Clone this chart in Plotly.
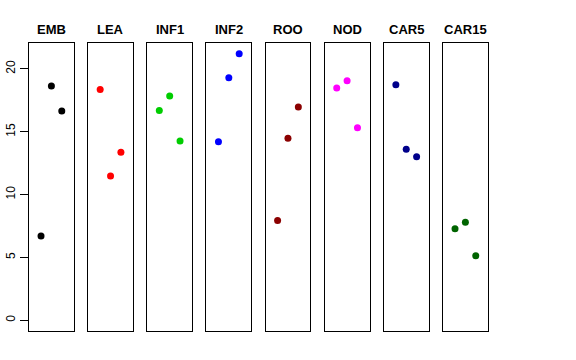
import plotly.graph_objects as go

groups = ["EMB", "LEA", "INF1", "INF2", "ROO", "NOD", "CAR5", "CAR15"]
colors = ["#000000", "#FF0000", "#00CD00", "#0000FF", "#8B0000", "#FF00FF", "#00008B", "#006400"]
x_pos = [1, 2, 3]
values = [
    [6.71, 18.64, 16.65],
    [18.37, 11.48, 13.36],
    [16.70, 17.84, 14.26],
    [14.21, 19.30, 21.21],
    [7.95, 14.48, 16.97],
    [18.48, 19.06, 15.32],
    [18.74, 13.60, 13.02],
    [7.29, 7.80, 5.14],
]
y_ticks = [0, 5, 10, 15, 20]

W, H = 576, 360
left0, step, pw = 29.0, 59.14, 44.8
top_px, bot_px = 43.0, 331.0
title_px = 29.0

fig = go.Figure()
layout = dict(
    width=W, height=H, margin=dict(l=0, r=0, t=0, b=0),
    plot_bgcolor="white", paper_bgcolor="white", showlegend=False,
    font=dict(family="Liberation Sans, Arial, sans-serif", color="black"),
)
annotations = []
for i, (g, c, v) in enumerate(zip(groups, colors, values)):
    n = "" if i == 0 else str(i + 1)
    fig.add_trace(go.Scatter(x=x_pos, y=v, mode="markers",
                             marker=dict(color=c, size=7),
                             xaxis="x" + n, yaxis="y" + n, hoverinfo="skip"))
    x0 = (left0 + i * step) / W
    x1 = (left0 + i * step + pw) / W
    layout["xaxis" + n] = dict(domain=[x0, x1], range=[-0.16, 4.16], showticklabels=False,
                               showgrid=False, zeroline=False, showline=True, mirror=True,
                               linecolor="black", linewidth=1, ticks="", anchor="y" + n,
                               fixedrange=True)
    ya = dict(domain=[1 - bot_px / H, 1 - top_px / H], range=[-0.85, 22.06], showgrid=False,
              zeroline=False, showline=True, mirror=True, linecolor="black", linewidth=1,
              anchor="x" + n, fixedrange=True, automargin=False)
    if i == 0:
        ya.update(tickmode="array", tickvals=y_ticks, ticktext=[str(t) for t in y_ticks],
                  ticks="outside", ticklen=8, tickcolor="black", tickangle=-90,
                  tickfont=dict(size=12, color="black"))
    else:
        ya.update(showticklabels=False, ticks="")
    layout["yaxis" + n] = ya
    annotations.append(dict(x=(x0 + x1) / 2, y=1 - title_px / H, xref="paper", yref="paper",
                            text="<b>" + g + "</b>", showarrow=False,
                            font=dict(size=13, color="black"), xanchor="center", yanchor="middle"))
layout["annotations"] = annotations
fig.update_layout(**layout)
fig.write_html("out.html", config={"displayModeBar": False, "staticPlot": True},
               post_script="document.body.style.margin='0';document.body.style.overflow='hidden';")
